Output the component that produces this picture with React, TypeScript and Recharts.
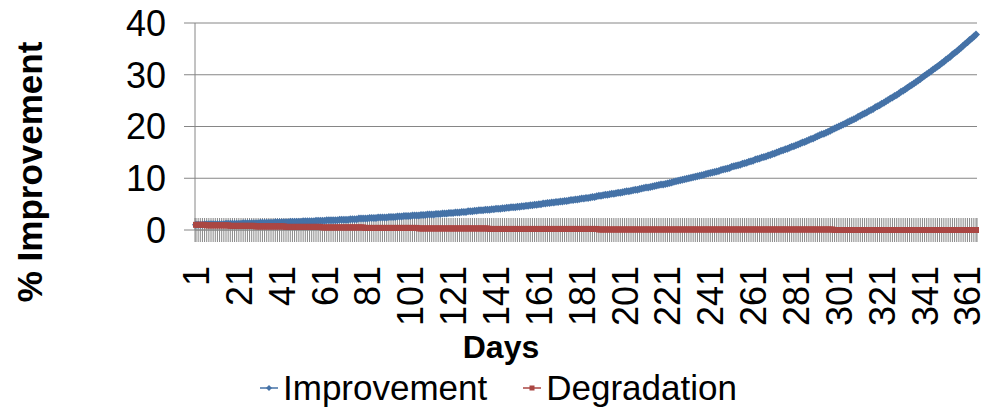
import React from 'react';
import { CartesianGrid, Legend, Line, LineChart, XAxis, YAxis } from 'recharts';

// day numbers on the category axis
const days = Array.from({ length: 365 }, (_, i) => i + 1);

// days that carry a label under the axis
const dayLabels = [1, 21, 41, 61, 81, 101, 121, 141, 161, 181, 201, 221, 241, 261, 281, 301, 321, 341, 361];

const yTicks = [0, 10, 20, 30, 40];

// day 1 to day 365
const improvement = [
  1.0, 1.0, 1.0, 1.0, 1.1, 1.1, 1.1, 1.1, 1.1,
  1.1, 1.1, 1.1, 1.1, 1.1, 1.2, 1.2, 1.2, 1.2, 1.2,
  1.2, 1.2, 1.2, 1.3, 1.3, 1.3, 1.3, 1.3, 1.3, 1.3,
  1.3, 1.4, 1.4, 1.4, 1.4, 1.4, 1.4, 1.4, 1.5, 1.5,
  1.5, 1.5, 1.5, 1.5, 1.5, 1.6, 1.6, 1.6, 1.6, 1.6,
  1.6, 1.7, 1.7, 1.7, 1.7, 1.7, 1.7, 1.8, 1.8, 1.8,
  1.8, 1.8, 1.9, 1.9, 1.9, 1.9, 1.9, 1.9, 2.0, 2.0,
  2.0, 2.0, 2.0, 2.1, 2.1, 2.1, 2.1, 2.2, 2.2, 2.2,
  2.2, 2.2, 2.3, 2.3, 2.3, 2.3, 2.4, 2.4, 2.4, 2.4,
  2.4, 2.5, 2.5, 2.5, 2.5, 2.6, 2.6, 2.6, 2.7, 2.7,
  2.7, 2.7, 2.8, 2.8, 2.8, 2.8, 2.9, 2.9, 2.9, 3.0,
  3.0, 3.0, 3.0, 3.1, 3.1, 3.1, 3.2, 3.2, 3.2, 3.3,
  3.3, 3.3, 3.4, 3.4, 3.4, 3.5, 3.5, 3.5, 3.6, 3.6,
  3.6, 3.7, 3.7, 3.8, 3.8, 3.8, 3.9, 3.9, 3.9, 4.0,
  4.0, 4.1, 4.1, 4.1, 4.2, 4.2, 4.3, 4.3, 4.4, 4.4,
  4.4, 4.5, 4.5, 4.6, 4.6, 4.7, 4.7, 4.8, 4.8, 4.9,
  4.9, 5.0, 5.0, 5.1, 5.1, 5.2, 5.2, 5.3, 5.3, 5.4,
  5.4, 5.5, 5.5, 5.6, 5.6, 5.7, 5.8, 5.8, 5.9, 5.9,
  6.0, 6.1, 6.1, 6.2, 6.2, 6.3, 6.4, 6.4, 6.5, 6.6,
  6.6, 6.7, 6.8, 6.8, 6.9, 7.0, 7.0, 7.1, 7.2, 7.2,
  7.3, 7.4, 7.5, 7.5, 7.6, 7.7, 7.8, 7.8, 7.9, 8.0,
  8.1, 8.2, 8.2, 8.3, 8.4, 8.5, 8.6, 8.7, 8.8, 8.8,
  8.9, 9.0, 9.1, 9.2, 9.3, 9.4, 9.5, 9.6, 9.7, 9.8,
  9.9, 10.0, 10.1, 10.2, 10.3, 10.4, 10.5, 10.6, 10.7, 10.8,
  10.9, 11.0, 11.1, 11.2, 11.3, 11.4, 11.6, 11.7, 11.8, 11.9,
  12.0, 12.2, 12.3, 12.4, 12.5, 12.6, 12.8, 12.9, 13.0, 13.2,
  13.3, 13.4, 13.6, 13.7, 13.8, 14.0, 14.1, 14.2, 14.4, 14.5,
  14.7, 14.8, 15.0, 15.1, 15.3, 15.4, 15.6, 15.7, 15.9, 16.1,
  16.2, 16.4, 16.5, 16.7, 16.9, 17.0, 17.2, 17.4, 17.6, 17.7,
  17.9, 18.1, 18.3, 18.5, 18.6, 18.8, 19.0, 19.2, 19.4, 19.6,
  19.8, 20.0, 20.2, 20.4, 20.6, 20.8, 21.0, 21.2, 21.4, 21.6,
  21.9, 22.1, 22.3, 22.5, 22.7, 23.0, 23.2, 23.4, 23.7, 23.9,
  24.1, 24.4, 24.6, 24.9, 25.1, 25.4, 25.6, 25.9, 26.1, 26.4,
  26.7, 26.9, 27.2, 27.5, 27.8, 28.0, 28.3, 28.6, 28.9, 29.2,
  29.5, 29.8, 30.1, 30.4, 30.7, 31.0, 31.3, 31.6, 31.9, 32.2,
  32.5, 32.9, 33.2, 33.5, 33.9, 34.2, 34.5, 34.9, 35.2, 35.6,
  36.0, 36.3, 36.7, 37.0, 37.4, 37.8,
];

// day 1 to day 365
const degradation = [
  1.0, 1.0, 1.0, 1.0, 1.0, 0.9, 0.9, 0.9, 0.9,
  0.9, 0.9, 0.9, 0.9, 0.9, 0.9, 0.9, 0.8, 0.8, 0.8,
  0.8, 0.8, 0.8, 0.8, 0.8, 0.8, 0.8, 0.8, 0.8, 0.7,
  0.7, 0.7, 0.7, 0.7, 0.7, 0.7, 0.7, 0.7, 0.7, 0.7,
  0.7, 0.7, 0.7, 0.6, 0.6, 0.6, 0.6, 0.6, 0.6, 0.6,
  0.6, 0.6, 0.6, 0.6, 0.6, 0.6, 0.6, 0.6, 0.6, 0.6,
  0.5, 0.5, 0.5, 0.5, 0.5, 0.5, 0.5, 0.5, 0.5, 0.5,
  0.5, 0.5, 0.5, 0.5, 0.5, 0.5, 0.5, 0.5, 0.5, 0.5,
  0.4, 0.4, 0.4, 0.4, 0.4, 0.4, 0.4, 0.4, 0.4, 0.4,
  0.4, 0.4, 0.4, 0.4, 0.4, 0.4, 0.4, 0.4, 0.4, 0.4,
  0.4, 0.4, 0.4, 0.4, 0.4, 0.3, 0.3, 0.3, 0.3, 0.3,
  0.3, 0.3, 0.3, 0.3, 0.3, 0.3, 0.3, 0.3, 0.3, 0.3,
  0.3, 0.3, 0.3, 0.3, 0.3, 0.3, 0.3, 0.3, 0.3, 0.3,
  0.3, 0.3, 0.3, 0.3, 0.3, 0.3, 0.3, 0.3, 0.2, 0.2,
  0.2, 0.2, 0.2, 0.2, 0.2, 0.2, 0.2, 0.2, 0.2, 0.2,
  0.2, 0.2, 0.2, 0.2, 0.2, 0.2, 0.2, 0.2, 0.2, 0.2,
  0.2, 0.2, 0.2, 0.2, 0.2, 0.2, 0.2, 0.2, 0.2, 0.2,
  0.2, 0.2, 0.2, 0.2, 0.2, 0.2, 0.2, 0.2, 0.2, 0.2,
  0.2, 0.2, 0.2, 0.2, 0.2, 0.2, 0.2, 0.2, 0.2, 0.1,
  0.1, 0.1, 0.1, 0.1, 0.1, 0.1, 0.1, 0.1, 0.1, 0.1,
  0.1, 0.1, 0.1, 0.1, 0.1, 0.1, 0.1, 0.1, 0.1, 0.1,
  0.1, 0.1, 0.1, 0.1, 0.1, 0.1, 0.1, 0.1, 0.1, 0.1,
  0.1, 0.1, 0.1, 0.1, 0.1, 0.1, 0.1, 0.1, 0.1, 0.1,
  0.1, 0.1, 0.1, 0.1, 0.1, 0.1, 0.1, 0.1, 0.1, 0.1,
  0.1, 0.1, 0.1, 0.1, 0.1, 0.1, 0.1, 0.1, 0.1, 0.1,
  0.1, 0.1, 0.1, 0.1, 0.1, 0.1, 0.1, 0.1, 0.1, 0.1,
  0.1, 0.1, 0.1, 0.1, 0.1, 0.1, 0.1, 0.1, 0.1, 0.1,
  0.1, 0.1, 0.1, 0.1, 0.1, 0.1, 0.1, 0.1, 0.1, 0.1,
  0.1, 0.1, 0.1, 0.1, 0.1, 0.1, 0.1, 0.1, 0.1, 0.1,
  0.1, 0.1, 0.1, 0.1, 0.1, 0.1, 0.1, 0.1, 0.1, 0.0,
  0.0, 0.0, 0.0, 0.0, 0.0, 0.0, 0.0, 0.0, 0.0, 0.0,
  0.0, 0.0, 0.0, 0.0, 0.0, 0.0, 0.0, 0.0, 0.0, 0.0,
  0.0, 0.0, 0.0, 0.0, 0.0, 0.0, 0.0, 0.0, 0.0, 0.0,
  0.0, 0.0, 0.0, 0.0, 0.0, 0.0, 0.0, 0.0, 0.0, 0.0,
  0.0, 0.0, 0.0, 0.0, 0.0, 0.0, 0.0, 0.0, 0.0, 0.0,
  0.0, 0.0, 0.0, 0.0, 0.0, 0.0, 0.0, 0.0, 0.0, 0.0,
  0.0, 0.0, 0.0, 0.0, 0.0, 0.0,
];

const data = days.map((d, i) => ({ day: d, improvement: improvement[i], degradation: degradation[i] }));

const BLUE = '#4572A7';
const RED = '#AA4643';
const GREY = '#868686';
const FONT = '"Liberation Sans", Arial, sans-serif';

const DiamondDot = (props: any) => {
  const { cx, cy, index } = props;
  if (cx == null || cy == null) return <g key={index} />;
  const r = 4;
  return <path key={index} d={`M${cx},${cy - r}L${cx + r},${cy}L${cx},${cy + r}L${cx - r},${cy}Z`} fill={BLUE} />;
};

const SquareDot = (props: any) => {
  const { cx, cy, index } = props;
  if (cx == null || cy == null) return <g key={index} />;
  return <rect key={index} x={cx - 3} y={cy - 3} width={6} height={6} fill={RED} />;
};

// the crossing tick marks of the day axis, drawn with the grid so the lines sit on top
const DayMark = (props: any) => {
  const { x1, y2, index } = props;
  return <line key={`m${index}`} x1={x1} x2={x1} y1={y2 - 12} y2={y2 + 12} stroke={GREY} strokeWidth={1} />;
};

const DayTick = (props: any) => {
  const { x, y, payload } = props;
  if (!dayLabels.includes(payload.value)) return <g />;
  const ty = y + 36;
  return (
    <text x={x} y={ty} transform={`rotate(-90, ${x}, ${ty})`} textAnchor='end' dy='0.36em' fontSize={36} fill='#000'>
      {payload.value}
    </text>
  );
};

const LegendBox = () => (
  <div style={{ display: 'flex', alignItems: 'center', paddingLeft: 260, paddingTop: 8, fontSize: 35, fontFamily: FONT, color: '#000', lineHeight: '40px' }}>
    <svg width={20} height={10} style={{ marginRight: 3 }}>
      <line x1={0} x2={18} y1={5} y2={5} stroke={BLUE} strokeWidth={1.5} />
      <path d='M9,2L12,5L9,8L6,5Z' fill={BLUE} />
    </svg>
    <span>Improvement</span>
    <svg width={20} height={10} style={{ marginLeft: 36, marginRight: 3 }}>
      <line x1={0} x2={18} y1={5} y2={5} stroke={RED} strokeWidth={1.5} />
      <rect x={6.5} y={2.5} width={5} height={5} fill={RED} />
    </svg>
    <span>Degradation</span>
  </div>
);

export default function App() {
  return (
    <div style={{ position: 'absolute', left: 0, top: 0, width: 1000, height: 420, background: '#fff', fontFamily: FONT }}>
      <LineChart width={1000} height={420} data={data} margin={{ top: 23, right: 23, bottom: 0, left: 0 }}>
        <CartesianGrid stroke={GREY} vertical={DayMark} />
        <XAxis
          dataKey='day'
          interval={0}
          tick={<DayTick />}
          tickLine={false}
          tickSize={0}
          tickMargin={0}
          axisLine={{ stroke: GREY }}
          height={130}
          padding={{ left: 1, right: 1 }}
          label={{
            content: () => (
              <text x={501} y={358} textAnchor='middle' fontSize={32} fontWeight='bold' fill='#000'>
                Days
              </text>
            ),
          }}
        />
        <YAxis
          domain={[0, 40]}
          ticks={yTicks}
          width={195}
          tickSize={11}
          tickMargin={18}
          tickLine={{ stroke: GREY }}
          axisLine={{ stroke: GREY }}
          tick={{ fontSize: 36, fill: '#000' }}
          label={{
            content: () => (
              <text x={42} y={172} transform='rotate(-90, 42, 172)' textAnchor='middle' fontSize={35} fontWeight='bold' fill='#000'>
                % Improvement
              </text>
            ),
          }}
        />
        <Legend verticalAlign='bottom' height={60} content={<LegendBox />} wrapperStyle={{ left: 0, width: 1000 }} />
        <Line type='linear' dataKey='improvement' name='Improvement' stroke={BLUE} strokeWidth={3} dot={DiamondDot} isAnimationActive={false} />
        <Line type='linear' dataKey='degradation' name='Degradation' stroke={RED} strokeWidth={4} dot={SquareDot} isAnimationActive={false} />
      </LineChart>
    </div>
  );
}
